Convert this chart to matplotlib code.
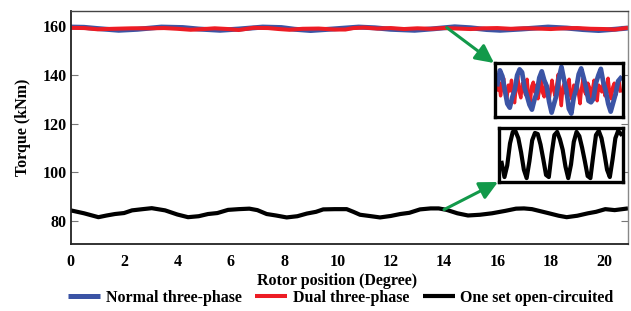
import numpy as np
import matplotlib
matplotlib.use("Agg")
import matplotlib.pyplot as plt

# ---------------- data ----------------
normal_x = [0.0, 0.5, 1.0, 1.8, 2.5, 3.4, 4.2, 4.8, 5.6, 6.3, 7.2, 7.9, 8.4, 9.0, 9.8,
            10.8, 11.4, 12.0, 12.9, 13.6, 14.4, 15.0, 15.6, 16.1, 16.9, 17.9, 18.6,
            19.2, 19.8, 20.4, 20.9]
normal_y = [159.6, 159.5, 159.0, 158.3, 158.7, 159.6, 159.4, 158.8, 158.3, 158.8, 159.6,
            159.4, 158.7, 158.2, 158.8, 159.6, 159.3, 158.7, 158.3, 158.9, 159.7, 159.3,
            158.6, 158.3, 158.8, 159.6, 159.2, 158.6, 158.2, 158.7, 159.2]

dual_x = [0.0, 0.5, 1.0, 1.6, 2.3, 3.0, 3.5, 4.0, 4.5, 5.0, 5.4, 5.9, 6.3, 6.85, 7.4,
          7.8, 8.2, 8.7, 9.3, 9.9, 10.3, 10.6, 11.0, 11.5, 12.0, 12.5, 13.0, 13.5, 14.0,
          14.5, 15.0, 15.5, 16.0, 16.5, 17.0, 17.5, 18.0, 18.5, 19.0, 19.5, 20.0, 20.4, 20.9]
dual_y = [159.3, 159.2, 158.7, 158.9, 159.1, 159.1, 159.2, 158.9, 158.5, 158.8, 159.1,
          158.8, 158.4, 159.3, 159.2, 158.8, 158.5, 158.9, 159.0, 158.6, 158.6, 159.2,
          159.4, 159.0, 159.2, 158.8, 159.1, 158.9, 159.2, 159.0, 158.8, 159.1, 159.2,
          158.9, 159.1, 159.0, 158.8, 159.1, 159.2, 158.9, 158.8, 158.6, 159.3]

open_x = [0.0, 0.5, 1.04, 1.35, 1.66, 2.0, 2.3, 2.7, 3.04, 3.54, 4.0, 4.4, 4.8, 5.15,
          5.5, 5.9, 6.3, 6.7, 7.0, 7.35, 7.7, 8.1, 8.5, 8.86, 9.2, 9.47, 9.9, 10.35,
          10.6, 10.85, 11.2, 11.6, 12.0, 12.36, 12.7, 13.1, 13.5, 13.8, 14.1, 14.5,
          14.9, 15.35, 15.8, 16.3, 16.7, 17.0, 17.3, 17.9, 18.3, 18.6, 19.0, 19.4,
          19.7, 20.05, 20.4, 20.9]
open_y = [84.4, 83.2, 81.6, 82.3, 82.9, 83.3, 84.4, 84.9, 85.3, 84.4, 82.7, 81.6, 82.0,
          82.9, 83.3, 84.6, 84.9, 85.1, 84.5, 82.9, 82.3, 81.5, 82.0, 83.1, 83.8, 84.8,
          84.9, 84.9, 83.8, 82.6, 82.1, 81.5, 82.1, 82.9, 83.4, 84.8, 85.2, 85.2, 84.6,
          83.2, 82.3, 82.6, 83.2, 84.2, 85.1, 85.2, 84.9, 83.3, 82.2, 81.6, 82.2, 83.2,
          83.8, 84.9, 84.5, 85.2]

# zoomed views (normalised, shape only)
zoom_normal = [0.62, 0.90, 0.78, 0.50, 0.22, 0.14, 0.35, 0.50, 0.80, 0.92, 0.86, 0.55,
               0.38, 0.20, 0.10, 0.30, 0.45, 0.75, 0.88, 0.70, 0.58, 0.26, 0.04, 0.22,
               0.40, 0.75, 0.97, 0.72, 0.50, 0.12, 0.02, 0.35, 0.52, 0.82, 0.94, 0.75,
               0.55, 0.28, 0.25, 0.32, 0.64, 0.80, 0.93, 0.66, 0.48, 0.22, 0.06, 0.24,
               0.42, 0.68, 0.74]
zoom_dual = [0.50, 0.66, 0.38, 0.58, 0.74, 0.44, 0.30, 0.60, 0.48, 0.70, 0.40, 0.24, 0.56,
             0.80, 0.46, 0.34, 0.64, 0.52, 0.40, 0.72, 0.38, 0.20, 0.58, 0.66, 0.45, 0.60,
             0.32, 0.50, 0.76, 0.44, 0.36, 0.64, 0.54, 0.26, 0.48, 0.70, 0.50, 0.38, 0.60,
             0.82, 0.44, 0.18, 0.56, 0.64, 0.42, 0.54, 0.72, 0.38, 0.30, 0.60, 0.50, 0.66,
             0.43, 0.22, 0.54, 0.74, 0.46, 0.40, 0.64, 0.56, 0.34, 0.52, 0.70, 0.44, 0.28,
             0.60, 0.52, 0.46, 0.68, 0.38, 0.56, 0.74, 0.45, 0.32, 0.56, 0.64, 0.40, 0.52,
             0.68, 0.48]
zoom_open = [0.35, 0.08, 0.30, 0.72, 0.94, 0.95, 0.82, 0.55, 0.22, 0.06, 0.38, 0.78, 0.92,
             0.90, 0.70, 0.42, 0.12, 0.08, 0.52, 0.88, 0.94, 0.80, 0.60, 0.28, 0.06, 0.32,
             0.75, 0.94, 0.86, 0.64, 0.38, 0.10, 0.06, 0.48, 0.88, 0.96, 0.82, 0.54, 0.22,
             0.08, 0.42, 0.82, 0.96, 0.90]

labels = ["Normal three-phase", "Dual three-phase", "One set open-circuited"]
x_ticks = [0, 2, 4, 6, 8, 10, 12, 14, 16, 18, 20]
y_ticks = [80, 100, 120, 140, 160]

BLUE = "#3B54A5"
RED = "#ED1C24"
BLACK = "#000000"
GREEN = "#12994A"

plt.rcParams["font.family"] = ["Liberation Serif", "DejaVu Serif"]
plt.rcParams["font.weight"] = "bold"

W, H = 631, 311
fig = plt.figure(figsize=(W / 100, H / 100), dpi=100)
ax = fig.add_axes([70.7 / W, 1 - 244 / H, (628 - 70.7) / W, (244 - 11) / H])

l1, = ax.plot(normal_x, normal_y, color=BLUE, lw=3.6, solid_joinstyle="round",
              solid_capstyle="butt", label=labels[0])
l2, = ax.plot(dual_x, dual_y, color=RED, lw=2.9, solid_joinstyle="round",
              solid_capstyle="butt", label=labels[1])
l3, = ax.plot(open_x, open_y, color=BLACK, lw=3.0, solid_joinstyle="round",
              solid_capstyle="butt", label=labels[2])

ax.set_xlim(0, 20.9)
ax.set_ylim(70.6, 166.2)
ax.set_xticks(x_ticks)
ax.set_yticks(y_ticks)
ax.tick_params(axis="x", length=0, pad=7, labelsize=11.5)
ax.tick_params(axis="y", direction="in", length=5, width=0.8, color="#777777",
               pad=3, labelsize=11.5, right=True)
for s in ["left", "bottom"]:
    ax.spines[s].set_linewidth(1.3)
    ax.spines[s].set_color("#222222")
ax.spines["top"].set_linewidth(1.0)
ax.spines["top"].set_color("#444444")
ax.spines["right"].set_linewidth(1.0)
ax.spines["right"].set_color("#888888")

ax.set_xlabel("Rotor position (Degree)", fontsize=11.5, fontweight="bold", labelpad=4)
ax.xaxis.set_label_coords(0.478, -0.125)
ax.set_ylabel("Torque (kNm)", fontsize=11.5, fontweight="bold", labelpad=8)

# insets
ins1 = fig.add_axes([495 / W, 1 - 117 / H, 128 / W, 54 / H])
ins1.plot(np.linspace(0, 1, len(zoom_dual)), zoom_dual, color=RED, lw=2.4)
ins1.plot(np.linspace(0, 1, len(zoom_normal)), zoom_normal, color=BLUE, lw=3.4)
ins1.set_xlim(-0.02, 1.02)
ins1.set_ylim(-0.05, 1.05)

ins2 = fig.add_axes([499.3 / W, 1 - 182.3 / H, 124 / W, 54.6 / H])
ins2.plot(np.linspace(0, 1, len(zoom_open)), zoom_open, color=BLACK, lw=3.0)
ins2.set_xlim(-0.02, 1.02)
ins2.set_ylim(-0.02, 1.02)

for a in (ins1, ins2):
    a.set_xticks([])
    a.set_yticks([])
    for s in a.spines.values():
        s.set_linewidth(2.4)
        s.set_color("black")

# arrows
arrowprops = dict(arrowstyle="-|>,head_length=1.1,head_width=0.55", color=GREEN, lw=2.2,
                  shrinkA=0, shrinkB=0)
ax.annotate("", xy=(494, H - 63), xycoords="figure pixels",
            xytext=(14.1, 159.4), textcoords="data", arrowprops=arrowprops)
ax.annotate("", xy=(498, H - 182), xycoords="figure pixels",
            xytext=(14.0, 84.7), textcoords="data", arrowprops=arrowprops)

fig.legend([l1, l2, l3], labels, loc="center", bbox_to_anchor=(0.54, 1 - 298 / H),
           ncol=3, frameon=False, handlelength=2.0, handletextpad=0.35,
           columnspacing=0.85, borderaxespad=0,
           prop={"weight": "bold", "size": 11.5})

fig.savefig("out.png", dpi=100)
